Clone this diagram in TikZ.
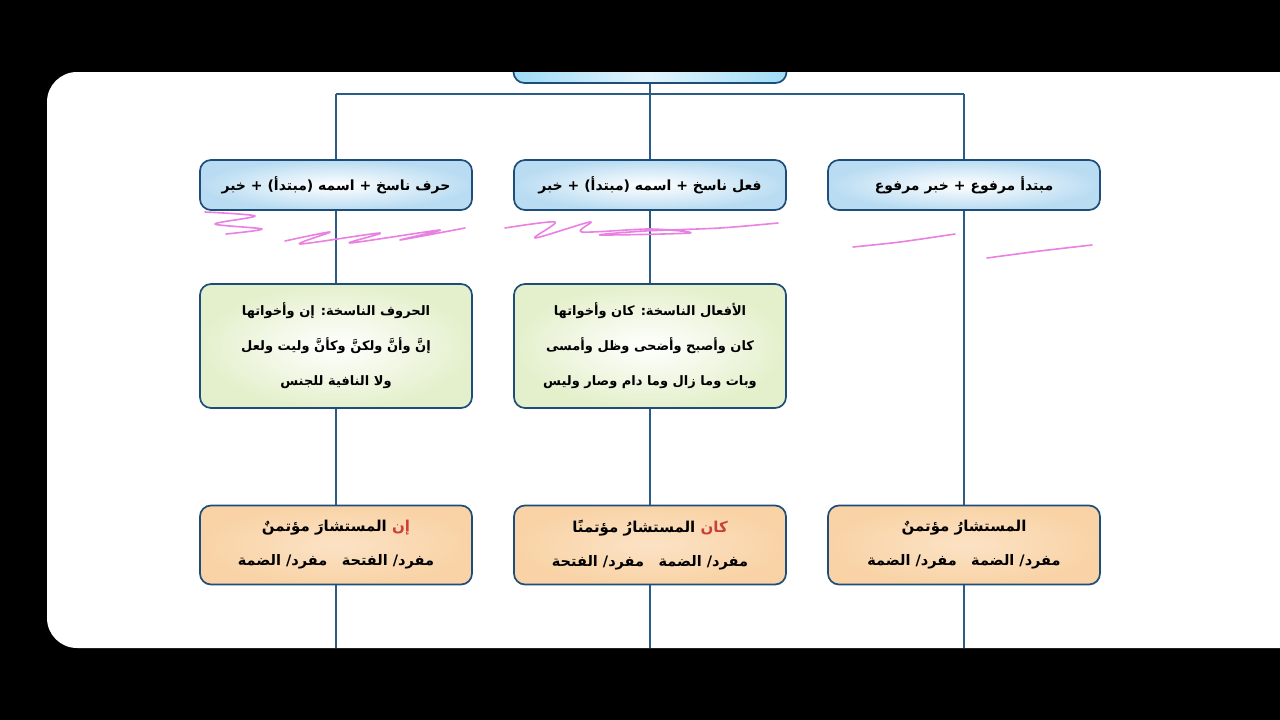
\documentclass[tikz,border=0pt]{standalone}
\usepackage{fontspec}
\newfontfamily\arabicfont[Script=Arabic]{DejaVu Sans}
\TeXXeTstate=1
\definecolor{treeline}{HTML}{2A5C86}
\definecolor{boxline}{HTML}{1D4D78}
\definecolor{rootblue}{HTML}{5CC3F0}
\definecolor{rootpale}{HTML}{E2F4FC}
\definecolor{headblue}{HTML}{B9DCF2}
\definecolor{listgreen}{HTML}{E4F0CC}
\definecolor{caseorange}{HTML}{F9D3A6}
\definecolor{casered}{HTML}{C8403A}
\definecolor{scribblepink}{HTML}{EA80E2}
\pgfdeclarehorizontalshading{rootshade}{100bp}{color(0bp)=(rootblue); color(50bp)=(rootpale); color(100bp)=(rootblue)}

\begin{document}
\begin{tikzpicture}[x=1pt,y=-1pt,
    tree/.style={draw=treeline,line width=1.5pt},
    boxbase/.style={draw=boxline,line width=1.7pt,rounded corners=11pt,
      minimum width=272pt,align=center,inner sep=0pt},
    headbox/.style={boxbase,minimum height=50pt,inner color=white,outer color=headblue,
      font=\arabicfont\bfseries\fontsize{14}{18}\selectfont},
    listbox/.style={boxbase,minimum height=124pt,inner color=white,outer color=listgreen,
      font=\arabicfont\bfseries\fontsize{13}{35}\selectfont},
    casebox/.style={boxbase,minimum height=79pt,inner color=white!35!caseorange,outer color=caseorange,
      font=\arabicfont\bfseries\fontsize{14.5}{34}\selectfont},
    scribble/.style={draw=scribblepink,line width=1.6pt,line cap=round,line join=round}]

    \useasboundingbox (0,0) rectangle (1280,720);
    \fill[black] (0,0) rectangle (1280,720);
    \fill[white,rounded corners=30pt] (47,72) rectangle (1330,648);

    \node[boxbase,minimum width=273pt,minimum height=50pt,shading=rootshade] (root) at (650,58) {};
    \fill[black] (0,0) rectangle (1280,72);

    \node[headbox] (headL) at (336,185) {\beginR حرف ناسخ + اسمه (مبتدأ) + خبر\endR};
    \node[headbox] (headM) at (650,185) {\beginR فعل ناسخ + اسمه (مبتدأ) + خبر\endR};
    \node[headbox] (headR) at (964,185) {\beginR مبتدأ مرفوع + خبر مرفوع\endR};

    \node[listbox] (listL) at (336,346) {\beginR الحروف الناسخة: إن وأخواتها\endR\\
      \beginR إنَّ وأنَّ ولكنَّ وكأنَّ وليت ولعل\endR\\
      \beginR ولا النافية للجنس\endR};
    \node[listbox] (listM) at (650,346) {\beginR الأفعال الناسخة: كان وأخواتها\endR\\
      \beginR كان وأصبح وأضحى وظل وأمسى\endR\\
      \beginR وبات وما زال وما دام وصار وليس\endR};

    \node[casebox] (caseL) at (336,545) {{\fontsize{15}{20}\selectfont\beginR المستشارَ مؤتمنٌ\endR\ {\color{casered}إن}}\\
      \beginR مفرد/ الفتحة\quad مفرد/ الضمة\endR};
    \node[casebox] (caseM) at (650,545) {{\fontsize{15}{20}\selectfont\beginR المستشارُ مؤتمنًا\endR\ {\color{casered}كان}}\\
      \beginR مفرد/ الضمة\quad مفرد/ الفتحة\endR};
    \node[casebox] (caseR) at (964,545) {{\fontsize{15}{20}\selectfont\beginR المستشارُ مؤتمنٌ\endR}\\
      \beginR مفرد/ الضمة\quad مفرد/ الضمة\endR};

    \coordinate (joinM) at (650,94);
    \coordinate (joinL) at (336,94);
    \coordinate (joinR) at (964,94);
    \coordinate (endL) at (336,648);
    \coordinate (endM) at (650,648);
    \coordinate (endR) at (964,648);

    \draw[tree] (root.south) -- (joinM);
    \draw[tree] (joinL) -- (joinR);
    \draw[tree] (joinL) -- (headL.north);
    \draw[tree] (joinM) -- (headM.north);
    \draw[tree] (joinR) -- (headR.north);
    \draw[tree] (headL.south) -- (listL.north);
    \draw[tree] (headM.south) -- (listM.north);
    \draw[tree] (listL.south) -- (caseL.north);
    \draw[tree] (listM.south) -- (caseM.north);
    \draw[tree] (headR.south) -- (caseR.north);
    \draw[tree] (caseL.south) -- (endL);
    \draw[tree] (caseM.south) -- (endM);
    \draw[tree] (caseR.south) -- (endR);

    \draw[scribble] plot[smooth] coordinates {(205,212) (255,216) (215,224) (262,229) (226,234)};
    \draw[scribble] plot[smooth] coordinates {(285,241) (330,232) (300,244) (380,233) (350,243) (440,230) (400,240) (465,228)};
    \draw[scribble] plot[smooth] coordinates {(505,228) (555,222) (535,238) (590,222) (582,232) (650,229) (690,233) (600,235) (645,231) (720,228) (778,223)};
    \draw[scribble] plot[smooth] coordinates {(853,247) (900,242) (955,234)};
    \draw[scribble] plot[smooth] coordinates {(987,258) (1040,251) (1092,245)};
\end{tikzpicture}
\end{document}
